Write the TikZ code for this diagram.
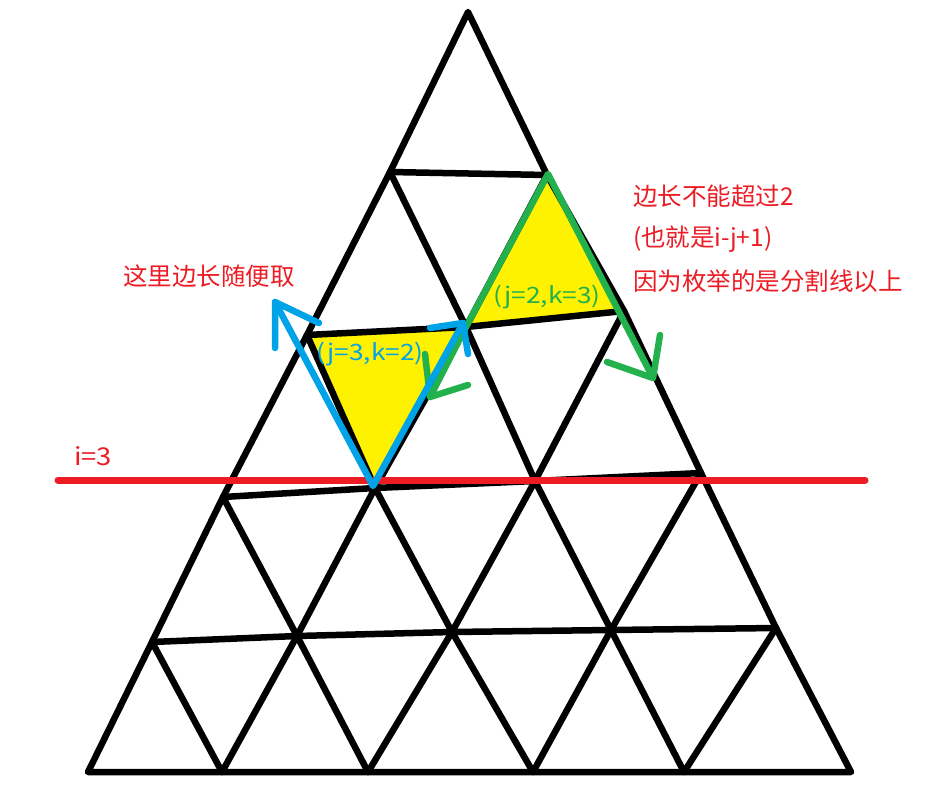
\documentclass[tikz,border=0pt]{standalone}
\usepackage{fontspec}
\usepackage{graphicx}
\setmainfont{Noto Sans CJK SC}
\definecolor{pred}{HTML}{ED1C24}
\definecolor{pblue}{HTML}{00A2E8}
\definecolor{pgreen}{HTML}{22B14C}
\definecolor{pyellow}{HTML}{FFF200}
\tikzset{
  grid/.style={draw=black,line width=6.5pt,line cap=round,line join=round},
  redline/.style={draw=pred,line width=7pt,line cap=round},
  blueline/.style={draw=pblue,line width=6.5pt,line cap=round,line join=round},
  greenline/.style={draw=pgreen,line width=6.5pt,line cap=round,line join=round},
  redtext/.style={text=pred,inner sep=0pt,anchor=west,font=\fontsize{24.5}{28}\selectfont},
  lbl/.style={inner sep=0pt,font=\fontsize{22.5}{26}\selectfont},
}
\begin{document}
\begin{tikzpicture}[x=1pt,y=-1pt]
\useasboundingbox (0,0) rectangle (928,789);
\fill[white] (0,0) rectangle (928,789);
% vertices
\coordinate (T) at (468,12);
\coordinate (L1) at (390,172); \coordinate (R1) at (547,175);
\coordinate (L2) at (307,335); \coordinate (M2) at (466,327); \coordinate (R2) at (624,311);
\coordinate (L3) at (223,497); \coordinate (A3) at (375,488); \coordinate (B3) at (535,481); \coordinate (R3) at (701,473);
\coordinate (L4) at (152,642); \coordinate (A4) at (297,636); \coordinate (B4) at (452,632); \coordinate (C4) at (611,630); \coordinate (R4) at (776,628);
\coordinate (P0) at (88,772); \coordinate (P1) at (222,772); \coordinate (P2) at (368,772); \coordinate (P3) at (533,772); \coordinate (P4) at (684,772); \coordinate (P5) at (851,772);
% yellow triangles
\fill[pyellow] (R1) -- (M2) -- (R2) -- cycle;
\fill[pyellow] (L2) -- (M2) -- (A3) -- cycle;
% grid
\path[grid] (P0) -- (L4) -- (L3) -- (L2) -- (L1) -- (T) -- (R1) -- (R2) -- (R3) -- (R4) -- (P5) -- cycle;
\path[grid] (L1) -- (R1);
\path[grid] (L2) -- (M2) -- (R2);
\path[grid] (L3) -- (A3) -- (B3) -- (R3);
\path[grid] (L4) -- (A4) -- (B4) -- (C4) -- (R4);
\path[grid] (L1) -- (M2) -- (B3) -- (C4) -- (P4);
\path[grid] (L2) -- (A3) -- (B4) -- (P3);
\path[grid] (L3) -- (A4) -- (P2);
\path[grid] (L4) -- (P1);
\path[grid] (R1) -- (M2) -- (A3) -- (A4) -- (P1);
\path[grid] (R2) -- (B3) -- (B4) -- (P2);
\path[grid] (R3) -- (C4) -- (P3);
\path[grid] (R4) -- (P4);
% red line
\coordinate (redL) at (58,480); \coordinate (redR) at (865,480);
\path[redline] (redL) -- (redR);
% green arrows
\coordinate (gTop) at (548,174);
\coordinate (gTipA) at (653,378); \coordinate (gA1) at (660,335); \coordinate (gA2) at (607,362);
\coordinate (gTipB) at (430,397); \coordinate (gB1) at (468,385); \coordinate (gB2) at (425,354);
\path[greenline] (gTipB) -- (M2) -- (gTop) -- (gTipA);
\path[greenline] (gA1) -- (gTipA) -- (gA2);
\path[greenline] (gB1) -- (gTipB) -- (gB2);
% blue arrows
\coordinate (bV) at (373,486);
\coordinate (bTipL) at (275,302); \coordinate (bL1) at (275,348); \coordinate (bL2) at (319,323);
\coordinate (bTipR) at (463,323); \coordinate (bR1) at (430,328); \coordinate (bR2) at (468,354);
\path[blueline] (bTipL) -- (bV) -- (bTipR);
\path[blueline] (bL1) -- (bTipL) -- (bL2);
\path[blueline] (bR1) -- (bTipR) -- (bR2);
% texts
\node[redtext] (t1) at (123,276) {这里边长随便取};
\node[redtext] (t2) at (74,456) {\scalebox{1.12}[1]{i=3}};
\node[redtext] (t3) at (633,196) {边长不能超过2};
\node[redtext] (t4) at (633,239) {(也就是i-j+1)};
\node[redtext] (t5) at (633,281) {因为枚举的是分割线以上};
\node[lbl,text=pblue] (l1) at (370,354) {\scalebox{1.17}[1]{(j=3,k=2)}};
\node[lbl,text=pgreen] (l2) at (547,297) {\scalebox{1.17}[1]{(j=2,k=3)}};
\end{tikzpicture}
\end{document}
